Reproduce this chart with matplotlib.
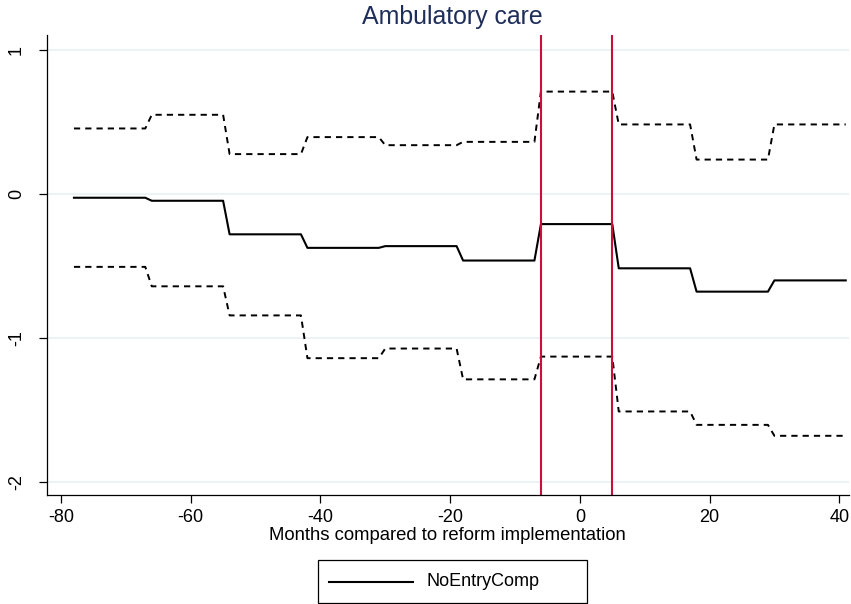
import numpy as np
import matplotlib
matplotlib.use("Agg")
import matplotlib.pyplot as plt
from matplotlib.patches import Rectangle
from matplotlib.lines import Line2D

plt.rcParams['font.family'] = ['Liberation Sans', 'DejaVu Sans']

# Window boundaries (months relative to reform) and step-level estimates
win_start = [-78, -66, -54, -42, -30, -18, -6, 6, 18, 30]
win_end = [-67, -55, -43, -31, -19, -7, 5, 17, 29, 41]
coef = [-0.026, -0.047, -0.28, -0.374, -0.362, -0.462, -0.209, -0.516, -0.678, -0.60]
upper = [0.455, 0.55, 0.277, 0.395, 0.339, 0.362, 0.711, 0.483, 0.239, 0.483]
lower = [-0.506, -0.641, -0.843, -1.14, -1.073, -1.287, -1.129, -1.51, -1.603, -1.679]
reform_lines = [-6, 5]
xticks = [-80, -60, -40, -20, 0, 20, 40]
yticks = [-2, -1, 0, 1]
series_label = 'NoEntryComp'


def steps(vals):
    xs, ys = [], []
    for s, e, v in zip(win_start, win_end, vals):
        xs += [s, e]
        ys += [v, v]
    return xs, ys


fig = plt.figure(figsize=(8.51, 6.04), dpi=100)
W, H = 851, 604
L, R, T, B = 46.7, 849, 35, 495
ax = fig.add_axes([L / W, 1 - B / H, (R - L) / W, (B - T) / H])

for y in yticks:
    ax.axhline(y, color='#eaf2f3', lw=1.3, zorder=0)

xs, ys = steps(upper)
ax.plot(xs, ys, color='black', lw=1.4, ls=(0, (3.2, 2.6)))
xs, ys = steps(lower)
ax.plot(xs, ys, color='black', lw=1.4, ls=(0, (3.2, 2.6)))
xs, ys = steps(coef)
ax.plot(xs, ys, color='black', lw=1.5, label=series_label)

for xv in reform_lines:
    ax.axvline(xv, color='#c8103c', lw=1.5)

ax.set_xlim(-82.2, 41.5)
ax.set_ylim(-2.09, 1.104)
ax.set_xticks(xticks)
ax.set_yticks(yticks)
ax.set_xticklabels([str(v) for v in xticks])
ax.set_yticklabels([str(v) for v in yticks], rotation=90, va='center')
for s in ['top', 'right']:
    ax.spines[s].set_visible(False)
for s in ['left', 'bottom']:
    ax.spines[s].set_linewidth(0.9)
ax.tick_params(axis='both', direction='out', length=5.8, width=0.9, labelsize=13, colors='black')
ax.tick_params(axis='x', pad=4)
ax.tick_params(axis='y', pad=10)

ax.set_xlabel('Months compared to reform implementation', fontsize=13.3, labelpad=1)
fig.text(452.7 / W, 1 - 17 / H, 'Ambulatory care', ha='center', va='center',
         fontsize=17.9, color='#1e2d5a')

# Legend box (Stata-style, drawn in figure pixel coordinates)
bx0, bx1, by0, by1 = 318, 587, 560, 603
fig.patches.append(Rectangle((bx0 / W, 1 - by1 / H), (bx1 - bx0) / W, (by1 - by0) / H,
                             transform=fig.transFigure, facecolor='white',
                             edgecolor='black', lw=0.9))
ly = 1 - 581.5 / H
fig.lines.append(Line2D([329 / W, 413 / W], [ly, ly], transform=fig.transFigure,
                        color='black', lw=1.5))
fig.text(427 / W, ly, series_label, ha='left', va='center', fontsize=13)

fig.savefig('out.png', dpi=100, facecolor='white')
